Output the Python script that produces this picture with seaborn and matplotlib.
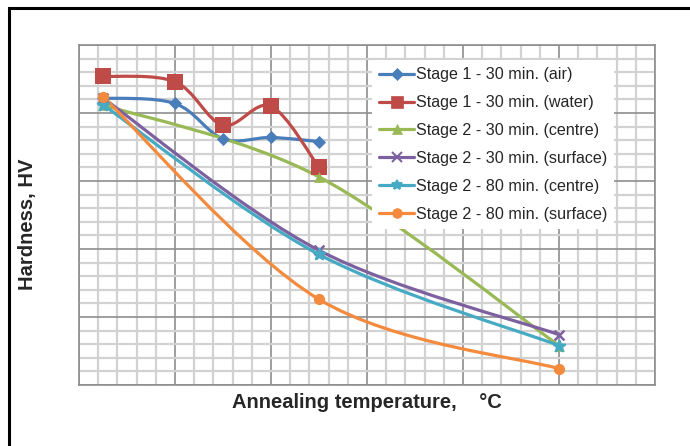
import numpy as np
import pandas as pd
import seaborn as sns
import matplotlib
matplotlib.use("Agg")
import matplotlib.pyplot as plt
from matplotlib.path import Path
from matplotlib.patches import PathPatch, Rectangle
from matplotlib.lines import Line2D
from matplotlib.ticker import MultipleLocator, NullFormatter

# ---- data (y axis has no labels, arbitrary HV scale) ----
temp_stage1 = [25, 100, 150, 200, 250]
air = [311, 307, 281, 282, 279]
water = [327, 323, 291, 305, 260]

temp_stage2 = [25, 250, 500]
s2_30_centre = [306, 253, 129]
s2_30_surface = [311, 199, 137]
s2_80_centre = [306, 196, 129]
s2_80_surface = [312, 163, 112]

labels = ["Stage 1 - 30 min. (air)", "Stage 1 - 30 min. (water)",
          "Stage 2 - 30 min. (centre)", "Stage 2 - 30 min. (surface)",
          "Stage 2 - 80 min. (centre)", "Stage 2 - 80 min. (surface)"]
colors = ["#4A7EBB", "#BE4B48", "#98B954", "#7D60A0", "#46AAC5", "#F38A3D"]
markers = ["D", "s", "^", "x", "*", "o"]
msizes = [45, 120, 60, 50, 70, 65]

series = [(temp_stage1, air), (temp_stage1, water),
          (temp_stage2, s2_30_centre), (temp_stage2, s2_30_surface),
          (temp_stage2, s2_80_centre), (temp_stage2, s2_80_surface)]

sns.set_theme(style="white")
plt.rcParams["font.family"] = ["Liberation Sans", "DejaVu Sans"]

fig = plt.figure(figsize=(6.9, 4.46), dpi=100)
ax = fig.add_axes([79 / 690, 1 - 385 / 446, 576 / 690, 340 / 446])

ax.set_xlim(0, 600)
ax.set_ylim(100, 350)
ax.xaxis.set_major_locator(MultipleLocator(100))
ax.xaxis.set_minor_locator(MultipleLocator(20))
ax.yaxis.set_major_locator(MultipleLocator(50))
ax.yaxis.set_minor_locator(MultipleLocator(10))
ax.xaxis.set_major_formatter(NullFormatter())
ax.yaxis.set_major_formatter(NullFormatter())
ax.tick_params(which="both", length=0)
ax.grid(which="minor", color="#d2d2d2", linewidth=1.6, zorder=0)
ax.grid(which="major", color="#8e8e8e", linewidth=1.2, zorder=0)
ax.set_axisbelow(True)
for s in ax.spines.values():
    s.set_color("#8e8e8e")
    s.set_linewidth(1.2)


def smooth_path(xs, ys):
    # Excel-style smoothed line: cubic Bezier segments drawn by matplotlib
    p = np.column_stack([xs, ys]).astype(float)
    n = len(p)
    verts = [p[0]]
    codes = [Path.MOVETO]
    for i in range(n - 1):
        pm = p[i - 1] if i > 0 else p[i]
        pn2 = p[i + 2] if i + 2 < n else p[i + 1]
        c1 = p[i] + (p[i + 1] - pm) / 6.0
        c2 = p[i + 1] - (pn2 - p[i]) / 6.0
        verts += [c1, c2, p[i + 1]]
        codes += [Path.CURVE4] * 3
    return Path(verts, codes)


handles = []
for (xs, ys), lab, col, mk, ms in zip(series, labels, colors, markers, msizes):
    ax.add_patch(PathPatch(smooth_path(xs, ys), facecolor="none",
                           edgecolor=col, linewidth=2.3, zorder=3))
    df = pd.DataFrame({"x": xs, "y": ys})
    lw = 1.8 if mk in ("x", "*") else 0
    sns.scatterplot(data=df, x="x", y="y", ax=ax, marker=mk, s=ms,
                    color=col, edgecolor=col if mk not in ("x", "*") else None,
                    linewidth=lw, zorder=4, legend=False)
    handles.append(Line2D([0], [0], color=col, linewidth=2.3, marker=mk,
                          markersize=8 if mk == "s" else (6 if mk == "D" else 7),
                          markeredgewidth=1.5 if mk in ("x", "*") else 0.5,
                          markeredgecolor=col))

ax.set_xlabel("")
ax.set_ylabel("")

leg = ax.legend(handles, labels, loc="upper left",
                bbox_to_anchor=((372 - 79) / 576, (385 - 60) / 340),
                frameon=True, fancybox=False, framealpha=1.0,
                edgecolor="white", facecolor="white",
                prop={"family": ["Liberation Sans"], "size": 11.6},
                handlelength=2.15, handletextpad=0.1, labelspacing=0.8,
                borderpad=0.45, borderaxespad=0)
leg.get_frame().set_linewidth(0)

fig.text(367 / 690, 1 - 403 / 446, "Annealing temperature,    °C",
         ha="center", va="center", fontsize=14.5, fontweight="bold")
fig.text(28 / 690, 1 - 224 / 446, "Hardness, HV", ha="center", va="center",
         rotation=90, fontsize=14.5, fontweight="bold")

# outer chart border (cropped image: left and top edges only visible)
fig.add_artist(Rectangle((9 / 690, -0.05), 1.2, 1 - 7.5 / 446 + 0.05,
                         transform=fig.transFigure, fill=False,
                         edgecolor="black", linewidth=2.2))

fig.savefig("out.png", dpi=100)
